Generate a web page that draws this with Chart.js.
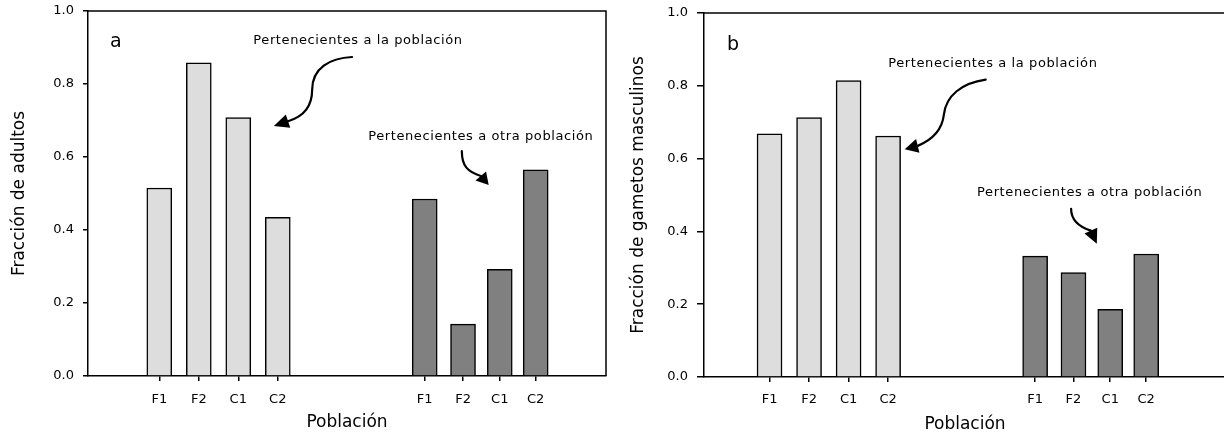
<!DOCTYPE html>
<html lang="es">
<head>
<meta charset="utf-8">
<title>Fracción de adultos y de gametos masculinos</title>
<script src="https://cdn.jsdelivr.net/npm/chart.js@4.4.1/dist/chart.umd.min.js"></script>
<style>
  html, body { margin: 0; padding: 0; background: #fff; overflow: hidden; }
  #wrap { position: relative; width: 1224px; height: 438px; overflow: hidden; }
  canvas { position: absolute; top: 0; }
  #chartA { left: 0; }
  #chartB { left: 620px; }
</style>
</head>
<body>
<div id="wrap">
  <canvas id="chartA" width="620" height="438"></canvas>
  <canvas id="chartB" width="610" height="438"></canvas>
</div>
<script>
// categorías de cada grupo
const categorias = ['F1', 'F2', 'C1', 'C2'];
// posición de las barras en el eje x: grupo propio y grupo de otra población
const posPropia = [1, 2, 3, 4];
const posOtra = [7.72, 8.69, 9.62, 10.53];
const ticksY = [0, 0.2, 0.4, 0.6, 0.8, 1.0];

// a) fracción de adultos
const adultosPropia = [0.515, 0.858, 0.708, 0.435];
const adultosOtra = [0.485, 0.142, 0.292, 0.565];

// b) fracción de gametos masculinos
const gametosPropia = [0.668, 0.713, 0.814, 0.662];
const gametosOtra = [0.332, 0.287, 0.186, 0.338];

const etiquetasX = [...categorias, ...categorias];

Chart.defaults.font.family = '"DejaVu Sans", Verdana, sans-serif';
Chart.defaults.color = '#000';

// texto, marco superior/derecho y flechas curvas de cada panel
function crearAnotaciones(cfg) {
    return {
        id: 'anotaciones',
        afterDatasetsDraw(chart) {
            const { ctx, chartArea: a, scales: { x, y } } = chart;
            const P = ([vx, vy]) => [x.getPixelForValue(vx), y.getPixelForValue(vy)];
            ctx.save();
            ctx.strokeStyle = '#000';
            ctx.fillStyle = '#000';
            ctx.lineWidth = 1.5;
            ctx.beginPath();
            ctx.moveTo(a.left, a.top);
            ctx.lineTo(a.right, a.top);
            ctx.lineTo(a.right, a.bottom);
            ctx.stroke();

            ctx.font = '19px "DejaVu Sans"';
            ctx.textAlign = 'left';
            ctx.textBaseline = 'alphabetic';
            const [lx, ly] = P(cfg.letra.pos);
            ctx.fillText(cfg.letra.texto, lx, ly);

            ctx.font = '13px "DejaVu Sans"';
            ctx.letterSpacing = '0.6px';
            ctx.textAlign = 'center';
            ctx.textBaseline = 'middle';
            cfg.textos.forEach(t => {
                const [tx, ty] = P(t.pos);
                ctx.fillText(t.texto, tx, ty);
            });
            ctx.letterSpacing = '0px';

            cfg.flechas.forEach(f => {
                const pts = f.trazo.map(P);
                ctx.lineWidth = 2.2;
                ctx.lineCap = 'round';
                ctx.beginPath();
                ctx.moveTo(pts[0][0], pts[0][1]);
                for (let i = 1; i + 2 < pts.length; i += 3) {
                    ctx.bezierCurveTo(pts[i][0], pts[i][1], pts[i + 1][0], pts[i + 1][1], pts[i + 2][0], pts[i + 2][1]);
                }
                ctx.stroke();
                const base = pts[pts.length - 1];
                const punta = P(f.punta);
                const dx = punta[0] - base[0], dy = punta[1] - base[1];
                const len = Math.hypot(dx, dy);
                const nx = -dy / len * 7, ny = dx / len * 7;
                ctx.beginPath();
                ctx.moveTo(punta[0], punta[1]);
                ctx.lineTo(base[0] + nx, base[1] + ny);
                ctx.lineTo(base[0] - nx, base[1] - ny);
                ctx.closePath();
                ctx.fill();
            });
            ctx.restore();
        }
    };
}

function crearPanel(id, propia, otra, cfg) {
    const puntos = (pos, vals) => pos.map((p, i) => ({ x: p, y: vals[i] }));
    return new Chart(document.getElementById(id), {
        type: 'bar',
        data: {
            datasets: [
                { data: puntos(posPropia, propia), backgroundColor: '#dddddd' },
                { data: puntos(posOtra, otra), backgroundColor: '#808080' }
            ]
        },
        options: {
            responsive: false,
            animation: false,
            events: [],
            layout: { padding: { top: cfg.top, right: cfg.right, left: 0, bottom: 0 } },
            datasets: {
                bar: { grouped: false, barThickness: 25, borderColor: '#000', borderWidth: 1.5 }
            },
            plugins: { legend: { display: false }, tooltip: { enabled: false } },
            scales: {
                x: {
                    type: 'linear',
                    min: cfg.xMin,
                    max: cfg.xMax,
                    offset: false,
                    afterBuildTicks: s => { s.ticks = [...posPropia, ...posOtra].map(v => ({ value: v })); },
                    afterFit: s => { s.height = cfg.altoX; s.paddingLeft = 0; s.paddingRight = 0; },
                    border: { color: '#000', width: 1.5 },
                    grid: { offset: false, drawOnChartArea: false, tickLength: 5, color: '#000', lineWidth: 1.5 },
                    ticks: {
                        autoSkip: false, maxRotation: 0, padding: cfg.padX,
                        font: { size: 13 },
                        callback: (v, i) => etiquetasX[i]
                    },
                    title: { display: true, text: 'Población', font: { size: 17 }, padding: { top: 0, bottom: cfg.padTituloX } }
                },
                y: {
                    min: 0,
                    max: 1,
                    afterBuildTicks: s => { s.ticks = ticksY.map(v => ({ value: v })); },
                    afterFit: s => { s.width = cfg.anchoY; s.paddingTop = 0; s.paddingBottom = 0; },
                    border: { color: '#000', width: 1.5 },
                    grid: { drawOnChartArea: false, tickLength: cfg.tickY, color: '#000', lineWidth: 1.5 },
                    ticks: { padding: 9, font: { size: 13 }, callback: v => v.toFixed(1) },
                    title: { display: true, text: cfg.tituloY, font: { size: 17 }, padding: { top: cfg.padTituloY, bottom: 0 } }
                }
            }
        },
        plugins: [crearAnotaciones(cfg.anotaciones)]
    });
}

crearPanel('chartA', adultosPropia, adultosOtra, {
    top: 11, right: 14, anchoY: 88, altoX: 62,
    xMin: -0.805, xMax: 12.31, tickY: 5,
    padX: 11, padTituloX: 5, padTituloY: 9,
    tituloY: 'Fracción de adultos',
    anotaciones: {
        letra: { texto: 'a', pos: [-0.25, 0.902] },
        textos: [
            { texto: 'Pertenecientes a la población', pos: [6.03, 0.918] },
            { texto: 'Pertenecientes a otra población', pos: [9.14, 0.657] }
        ],
        flechas: [
            {
                trazo: [[5.88, 0.874], [5.32, 0.871], [4.87, 0.844], [4.87, 0.784],
                        [4.87, 0.734], [4.61, 0.709], [4.26, 0.698]],
                punta: [3.90, 0.685]
            },
            {
                trazo: [[8.66, 0.616], [8.66, 0.575], [8.81, 0.559], [9.14, 0.548]],
                punta: [9.34, 0.523]
            }
        ]
    }
});

crearPanel('chartB', gametosPropia, gametosOtra, {
    top: 13, right: 4, anchoY: 84, altoX: 61,
    xMin: -0.658, xMax: 12.549, tickY: 7,
    padX: 10, padTituloX: 3, padTituloY: 8,
    tituloY: 'Fracción de gametos masculinos',
    anotaciones: {
        letra: { texto: 'b', pos: [-0.076, 0.899] },
        textos: [
            { texto: 'Pertenecientes a la población', pos: [6.65, 0.861] },
            { texto: 'Pertenecientes a otra población', pos: [9.10, 0.506] }
        ],
        flechas: [
            {
                trazo: [[6.47, 0.817], [5.87, 0.808], [5.46, 0.773], [5.41, 0.720],
                        [5.36, 0.674], [5.06, 0.649], [4.75, 0.635]],
                punta: [4.42, 0.626]
            },
            {
                trazo: [[8.63, 0.462], [8.63, 0.432], [8.81, 0.413], [9.13, 0.402]],
                punta: [9.28, 0.366]
            }
        ]
    }
});
</script>
</body>
</html>
